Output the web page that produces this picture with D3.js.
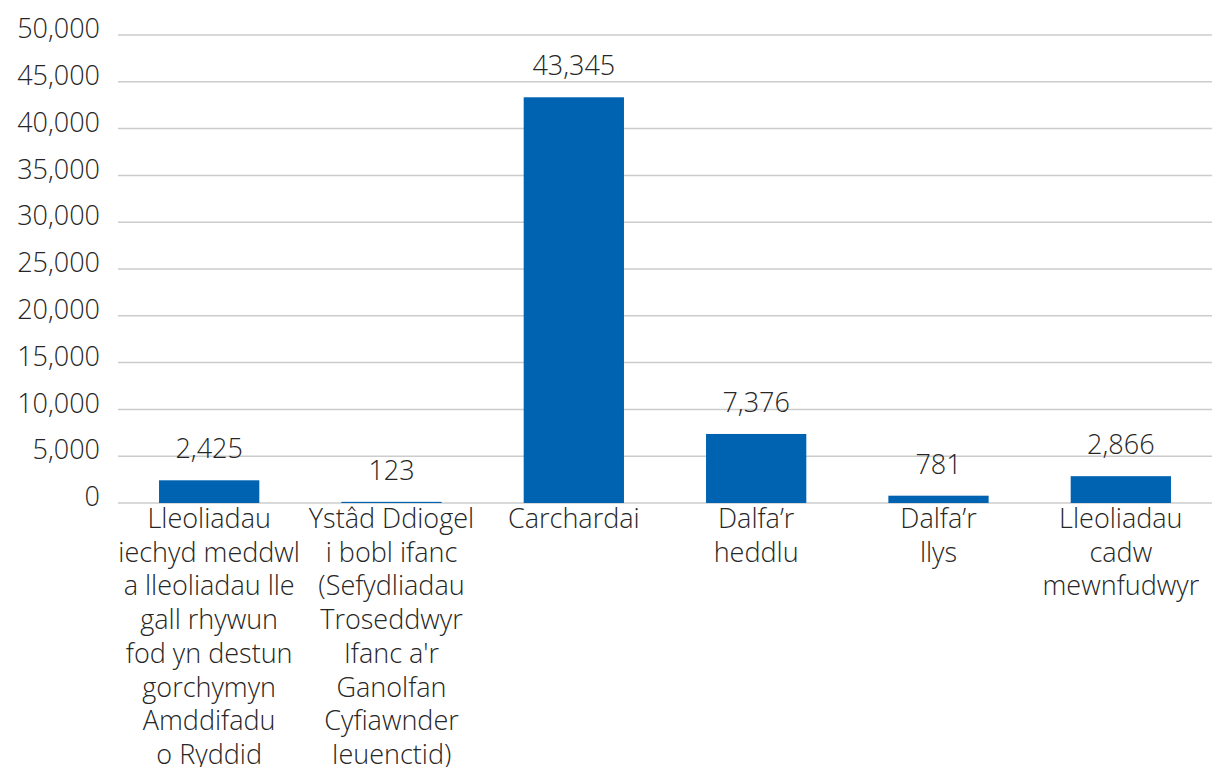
<!DOCTYPE html>
<html>
<head>
<meta charset="utf-8">
<script src="https://cdn.jsdelivr.net/npm/d3@7"></script>
<style>
  body { margin: 0; background: #fff; }
  text { font-family: "Open Sans", "Noto Sans", sans-serif; font-weight: 300; fill: #262626; }
</style>
</head>
<body>
<div id="chart"></div>
<script>
var categories = [
  ["Lleoliadau", "iechyd meddwl", "a lleoliadau lle", "gall rhywun", "fod yn destun", "gorchymyn", "Amddifadu", "o Ryddid"],
  ["Ystâd Ddiogel", "i bobl ifanc", "(Sefydliadau", "Troseddwyr", "Ifanc a'r", "Ganolfan", "Cyfiawnder", "Ieuenctid)"],
  ["Carchardai"],
  ["Dalfa’r", "heddlu"],
  ["Dalfa’r", "llys"],
  ["Lleoliadau", "cadw", "mewnfudwyr"]
];
var values = [2425, 123, 43345, 7376, 781, 2866];
var yTicks = [0, 5000, 10000, 15000, 20000, 25000, 30000, 35000, 40000, 45000, 50000];

var margin = {top: 35, right: 7, bottom: 264, left: 118},
    width = 1219 - margin.left - margin.right,
    height = 767 - margin.top - margin.bottom;

var svg = d3.select("#chart")
  .append("svg")
    .attr("width", 1219)
    .attr("height", 767)
  .append("g")
    .attr("transform", "translate(" + margin.left + "," + margin.top + ")");

var x = d3.scaleBand()
  .domain(d3.range(categories.length))
  .range([0, width])
  .paddingInner(0.45)
  .paddingOuter(0.225);

var y = d3.scaleLinear()
  .domain([0, 50000])
  .range([height, 0]);

var fmt = d3.format(",");

// gridlines
svg.selectAll(".grid")
  .data(yTicks)
  .enter()
  .append("line")
    .attr("x1", 0)
    .attr("x2", width)
    .attr("y1", function(d) { return y(d); })
    .attr("y2", function(d) { return y(d); })
    .attr("stroke", "#cccccc")
    .attr("stroke-width", 1.5);

// y axis labels
var yAxis = svg.append("g")
  .call(d3.axisLeft(y).tickValues(yTicks).tickFormat(fmt).tickSize(0).tickPadding(18));
yAxis.select(".domain").remove();
yAxis.selectAll("text")
  .attr("dy", "0.1em")
  .style("font-size", "27px")
  .style("font-family", "\"Open Sans\", \"Noto Sans\", sans-serif")
  .style("font-weight", 300)
  .attr("fill", "#262626");

// bars
svg.selectAll(".bar")
  .data(values)
  .enter()
  .append("rect")
    .attr("x", function(d, i) { return x(i); })
    .attr("width", x.bandwidth())
    .attr("y", function(d) { return y(d); })
    .attr("height", function(d) { return height - y(d); })
    .attr("fill", "#0063b1");

// value labels
svg.selectAll(".val")
  .data(values)
  .enter()
  .append("text")
    .attr("x", function(d, i) { return x(i) + x.bandwidth() / 2; })
    .attr("y", function(d) { return y(d) - 22; })
    .attr("text-anchor", "middle")
    .style("font-size", "27px")
    .text(function(d) { return fmt(d); });

// category labels
var cat = svg.selectAll(".cat")
  .data(categories)
  .enter()
  .append("text")
    .attr("text-anchor", "middle")
    .attr("transform", function(d, i) {
      return "translate(" + (x(i) + x.bandwidth() / 2) + "," + (height + 25) + ")";
    })
    .style("font-size", "27px");

cat.selectAll("tspan")
  .data(function(d) { return d; })
  .enter()
  .append("tspan")
    .attr("x", 0)
    .attr("y", function(d, j) { return j * 33.7; })
    .text(function(d) { return d; });
</script>
</body>
</html>
